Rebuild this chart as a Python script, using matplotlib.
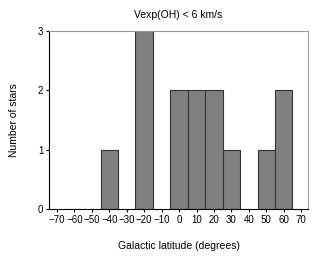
import matplotlib
matplotlib.use("Agg")
from matplotlib import pyplot as plt

# galactic latitude bins (centres) and number of stars
latitude = [-40, -20, 0, 10, 20, 30, 50, 60]
n_stars = [1, 3, 2, 2, 2, 1, 1, 2]
xticks = list(range(-70, 71, 10))
yticks = [0, 1, 2, 3]

plt.rcParams['font.family'] = ['Liberation Sans', 'DejaVu Sans']

fig = plt.figure(figsize=(3.22, 2.58), dpi=100)
ax = fig.add_axes([0.152, 0.19, 0.805, 0.69])

ax.bar(latitude, n_stars, width=10, color='#808080', edgecolor='#333333', linewidth=0.8)

ax.set_xlim(-74.6, 74)
ax.set_ylim(0, 3)
ax.set_xticks(xticks)
ax.set_yticks(yticks)
ax.tick_params(labelsize=7, length=2, width=0.8, pad=2)

for s in ['top', 'right']:
    ax.spines[s].set_color('#999999')
    ax.spines[s].set_linewidth(0.8)
for s in ['left', 'bottom']:
    ax.spines[s].set_color('black')
    ax.spines[s].set_linewidth(0.8)

ax.set_title("Vexp(OH) < 6 km/s", fontsize=7.5, pad=9)
ax.set_xlabel("Galactic latitude (degrees)", fontsize=7.5, labelpad=12)
ax.set_ylabel("Number of stars", fontsize=7.5, labelpad=14)

fig.savefig("out.png", dpi=100)
